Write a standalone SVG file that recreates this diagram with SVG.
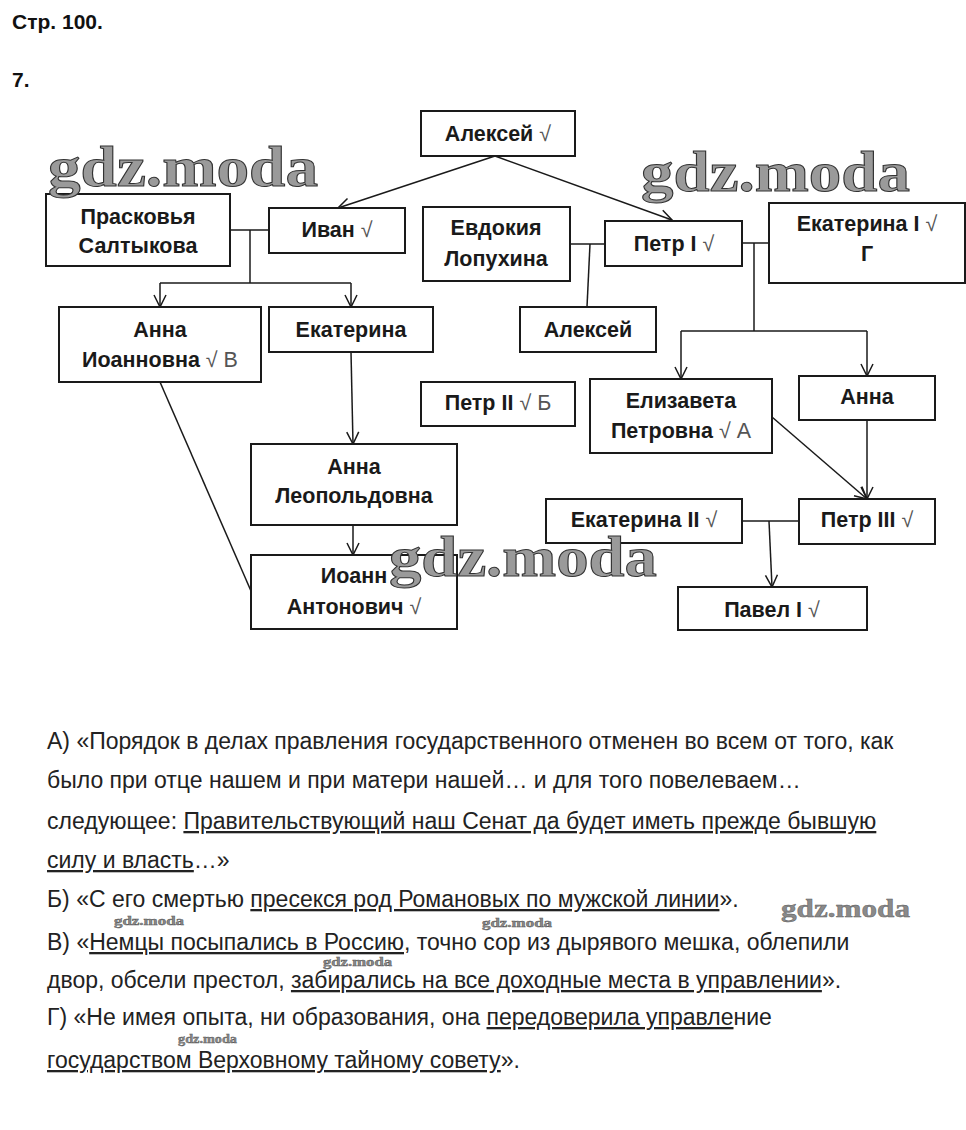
<svg xmlns="http://www.w3.org/2000/svg" width="966" height="1130" viewBox="0 0 966 1130">
<style>
.bg{fill:#fff}
.box{fill:#fff;stroke:#1a1a1a;stroke-width:2}
.t{font-family:"Liberation Sans",Arial,sans-serif;font-weight:bold;font-size:21.5px;fill:#1a1a1a;text-anchor:middle}
.t .r{font-weight:normal;fill:#555}
.h{font-family:"Liberation Sans",Arial,sans-serif;font-weight:bold;font-size:21px;fill:#111}
.p{font-family:"Liberation Sans",Arial,sans-serif;font-size:23px;fill:#222}
.u{text-decoration:underline}
.ln{fill:none;stroke:#1a1a1a;stroke-width:1.5}
.wm{font-family:"Liberation Serif","DejaVu Serif",serif;font-weight:bold;fill:#9a9a9a;stroke:#333;stroke-width:1}
.wms{font-family:"Liberation Serif","DejaVu Serif",serif;font-weight:bold;fill:#8a8a8a;stroke:#555;stroke-width:0.4}
</style>
<defs>
<marker id="arr" markerUnits="userSpaceOnUse" markerWidth="16" markerHeight="16" refX="13" refY="7" orient="auto">
<path d="M1,1 L13,7 L1,13" fill="none" stroke="#1a1a1a" stroke-width="1.5"/>
</marker>
</defs>
<rect class="bg" width="966" height="1130"/>
<text class="h" x="12" y="29">Стр. 100.</text>
<text class="h" x="12" y="87">7.</text>

<g id="connectors">
<line class="ln" x1="495" y1="156" x2="338" y2="208" marker-end="url(#arr)"/>
<line class="ln" x1="495" y1="156" x2="672" y2="220" marker-end="url(#arr)"/>
<line class="ln" x1="230" y1="230" x2="269" y2="230"/>
<line class="ln" x1="250" y1="230" x2="250" y2="283"/>
<line class="ln" x1="160" y1="283" x2="351" y2="283"/>
<line class="ln" x1="160" y1="283" x2="160" y2="307" marker-end="url(#arr)"/>
<line class="ln" x1="351" y1="283" x2="351" y2="307" marker-end="url(#arr)"/>
<line class="ln" x1="570" y1="244" x2="605" y2="244"/>
<line class="ln" x1="590" y1="244" x2="587" y2="307"/>
<line class="ln" x1="742" y1="243" x2="769" y2="243"/>
<line class="ln" x1="754" y1="243" x2="754" y2="331"/>
<line class="ln" x1="681" y1="331" x2="867" y2="331"/>
<line class="ln" x1="681" y1="331" x2="681" y2="379" marker-end="url(#arr)"/>
<line class="ln" x1="867" y1="331" x2="867" y2="376" marker-end="url(#arr)"/>
<line class="ln" x1="351" y1="352" x2="353" y2="444" marker-end="url(#arr)"/>
<line class="ln" x1="353" y1="525" x2="353" y2="555" marker-end="url(#arr)"/>
<line class="ln" x1="160" y1="382" x2="251" y2="591"/>
<line class="ln" x1="772" y1="417" x2="867" y2="499" marker-end="url(#arr)"/>
<line class="ln" x1="867" y1="420" x2="867" y2="499" marker-end="url(#arr)"/>
<line class="ln" x1="742" y1="521" x2="799" y2="521"/>
<line class="ln" x1="769" y1="521" x2="772" y2="587" marker-end="url(#arr)"/>
</g>

<g id="n-aleksey"><rect class="box" x="421" y="111" width="154" height="45"/><text class="t" x="498" y="141">Алексей <tspan class="r">√</tspan></text></g>
<g id="n-praskovya"><rect class="box" x="46" y="194" width="184" height="72"/><text class="t" x="138" y="224">Прасковья</text><text class="t" x="138" y="253">Салтыкова</text></g>
<g id="n-ivan"><rect class="box" x="269" y="208" width="136" height="45"/><text class="t" x="337" y="237">Иван <tspan class="r">√</tspan></text></g>
<g id="n-evdokiya"><rect class="box" x="423" y="207" width="147" height="74"/><text class="t" x="496" y="235">Евдокия</text><text class="t" x="496" y="266">Лопухина</text></g>
<g id="n-petr1"><rect class="box" x="605" y="221" width="137" height="45"/><text class="t" x="674" y="251">Петр I <tspan class="r">√</tspan></text></g>
<g id="n-ekaterina1"><rect class="box" x="769" y="203" width="196" height="80"/><text class="t" x="867" y="231">Екатерина I <tspan class="r">√</tspan></text><text class="t" x="867" y="261">Г</text></g>
<g id="n-aleksey2"><rect class="box" x="520" y="307" width="136" height="45"/><text class="t" x="588" y="337">Алексей</text></g>
<g id="n-anna-ioannovna"><rect class="box" x="59" y="307" width="202" height="75"/><text class="t" x="160" y="337">Анна</text><text class="t" x="160" y="367">Иоанновна <tspan class="r">√ В</tspan></text></g>
<g id="n-ekaterina"><rect class="box" x="269" y="307" width="164" height="45"/><text class="t" x="351" y="337">Екатерина</text></g>
<g id="n-petr2"><rect class="box" x="421" y="382" width="154" height="44"/><text class="t" x="498" y="410">Петр II <tspan class="r">√ Б</tspan></text></g>
<g id="n-elizaveta"><rect class="box" x="590" y="379" width="182" height="74"/><text class="t" x="681" y="408">Елизавета</text><text class="t" x="681" y="438">Петровна <tspan class="r">√ А</tspan></text></g>
<g id="n-anna"><rect class="box" x="799" y="376" width="136" height="44"/><text class="t" x="867" y="404">Анна</text></g>
<g id="n-anna-leopoldovna"><rect class="box" x="251" y="444" width="206" height="81"/><text class="t" x="354" y="474">Анна</text><text class="t" x="354" y="503">Леопольдовна</text></g>
<g id="n-ioann"><rect class="box" x="251" y="555" width="206" height="74"/><text class="t" x="354" y="583">Иоанн</text><text class="t" x="354" y="614">Антонович <tspan class="r">√</tspan></text></g>
<g id="n-ekaterina2"><rect class="box" x="546" y="499" width="196" height="44"/><text class="t" x="644" y="527">Екатерина II <tspan class="r">√</tspan></text></g>
<g id="n-petr3"><rect class="box" x="799" y="499" width="136" height="45"/><text class="t" x="867" y="527">Петр III <tspan class="r">√</tspan></text></g>
<g id="n-pavel1"><rect class="box" x="678" y="587" width="189" height="43"/><text class="t" x="772" y="617">Павел I <tspan class="r">√</tspan></text></g>

<g id="quotes">
<text class="p" x="47" y="749">А) «Порядок в делах правления государственного отменен во всем от того, как</text>
<text class="p" x="47" y="788">было при отце нашем и при матери нашей… и для того повелеваем…</text>
<text class="p" x="47" y="829">следующее: <tspan class="u">Правительствующий наш Сенат да будет иметь прежде бывшую</tspan></text>
<text class="p" x="47" y="868"><tspan class="u">силу и власть</tspan>…»</text>
<text class="p" x="47" y="907">Б) «С его смертью <tspan class="u">пресекся род Романовых по мужской линии</tspan>».</text>
<text class="p" x="47" y="950">В) «<tspan class="u">Немцы посыпались в Россию</tspan>, точно сор из дырявого мешка, облепили</text>
<text class="p" x="47" y="988">двор, обсели престол, <tspan class="u">забирались на все доходные места в управлении</tspan>».</text>
<text class="p" x="47" y="1025">Г) «Не имея опыта, ни образования, она <tspan class="u">передоверила управле</tspan>ние</text>
<text class="p" x="47" y="1068"><tspan class="u">государством Верховному тайному совету</tspan>».</text>
</g>

<g id="watermarks">
<text class="wm" x="48" y="186" font-size="56" textLength="270" lengthAdjust="spacingAndGlyphs">gdz.moda</text>
<text class="wm" x="641" y="191" font-size="56" textLength="269" lengthAdjust="spacingAndGlyphs">gdz.moda</text>
<text class="wm" x="389" y="576" font-size="56" textLength="268" lengthAdjust="spacingAndGlyphs">gdz.moda</text>
<text class="wms" x="781" y="917" font-size="26" textLength="129" lengthAdjust="spacingAndGlyphs">gdz.moda</text>
<text class="wms" x="114" y="925" font-size="12" textLength="70" lengthAdjust="spacingAndGlyphs">gdz.moda</text>
<text class="wms" x="482" y="927" font-size="12" textLength="70" lengthAdjust="spacingAndGlyphs">gdz.moda</text>
<text class="wms" x="323" y="966" font-size="12" textLength="69" lengthAdjust="spacingAndGlyphs">gdz.moda</text>
<text class="wms" x="178" y="1043" font-size="12" textLength="59" lengthAdjust="spacingAndGlyphs">gdz.moda</text>
</g>
</svg>
